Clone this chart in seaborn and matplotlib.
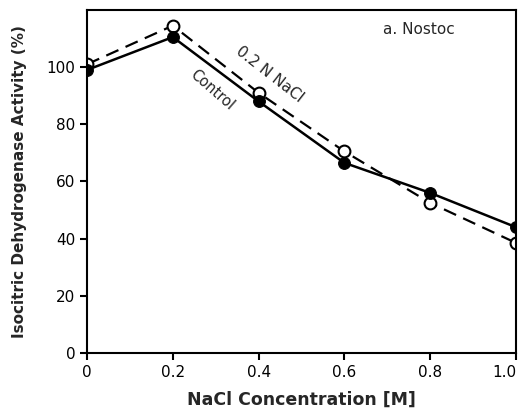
import matplotlib
matplotlib.use("Agg")
import matplotlib.pyplot as plt
import seaborn as sns
import pandas as pd

nacl = [0.0, 0.2, 0.4, 0.6, 0.8, 1.0]
control = [99, 110.5, 88, 66.5, 56, 44]
nacl_02 = [101, 114.5, 91, 70.5, 52.5, 38.5]
xticks = [0, 0.2, 0.4, 0.6, 0.8, 1.0]
xticklabels = ["0", "0.2", "0.4", "0.6", "0.8", "1.0"]
yticks = [0, 20, 40, 60, 80, 100]

sns.set_style("ticks")
plt.rcParams['font.family'] = ['DejaVu Sans']

fig = plt.figure(figsize=(5.22, 4.13), dpi=100)
ax = fig.add_axes([0.1667, 0.1453, 0.9885 - 0.1667, 0.976 - 0.1453])

df_c = pd.DataFrame({"x": nacl, "y": control})
df_n = pd.DataFrame({"x": nacl, "y": nacl_02})

sns.lineplot(data=df_n, x="x", y="y", ax=ax, color="black", lw=1.6,
             dashes=False, linestyle=(0, (6, 3.5)), marker="o", markersize=8.5,
             markerfacecolor="white", markeredgecolor="black", markeredgewidth=1.5)
sns.lineplot(data=df_c, x="x", y="y", ax=ax, color="black", lw=1.8,
             marker="o", markersize=8.5, markerfacecolor="black",
             markeredgecolor="black")

ax.set_xlim(0, 1.0)
ax.set_ylim(0, 120)
ax.set_xticks(xticks)
ax.set_xticklabels(xticklabels)
ax.set_yticks(yticks)
for s in ax.spines.values():
    s.set_linewidth(1.5)
    s.set_color("black")
ax.tick_params(direction="out", length=5, width=1.5, labelsize=11, colors="black")
ax.get_xticklabels()[-1].set_horizontalalignment("right")

ax.set_xlabel("NaCl Concentration [M]", fontsize=12.5, fontweight="bold", labelpad=8)
ax.set_ylabel("Isocitric Dehydrogenase Activity (%)", fontsize=11, fontweight="bold", labelpad=14)

ax.text(0.69, 113, "a. Nostoc", fontsize=11, ha="left", va="center")
ax.text(0.425, 97.5, "0.2 N NaCl", fontsize=11, ha="center", va="center", rotation=-38)
ax.text(0.292, 92, "Control", fontsize=10.5, ha="center", va="center", rotation=-41)

fig.savefig("out.png", dpi=100)
